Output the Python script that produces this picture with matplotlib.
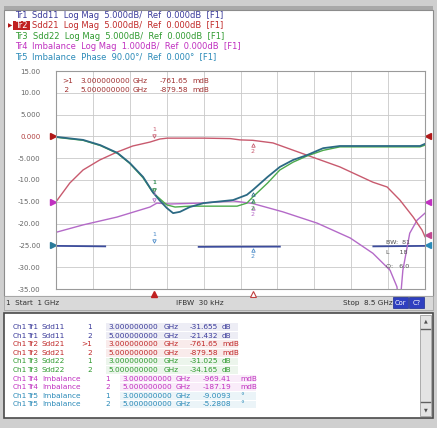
import numpy as np
import matplotlib
matplotlib.use('Agg')
import matplotlib.pyplot as plt
from matplotlib.patches import Rectangle
from matplotlib.transforms import blended_transform_factory

W, H = 437, 428

# ---------------- data ----------------
start_ghz, stop_ghz = 1.0, 8.5
y_min, y_max = -35.0, 15.0
y_ticks = [15, 10, 5, 0, -5, -10, -15, -20, -25, -30, -35]
y_tick_labels = ['15.00', '10.00', '5.000', '0.000', '-5.000', '-10.00',
                 '-15.00', '-20.00', '-25.00', '-30.00', '-35.00']
marker_freqs = [3.0, 5.0]

# Tr1 Sdd11 (dark teal)
freq_tr1 = [1.0, 1.55, 1.9, 2.25, 2.5, 2.77, 2.97, 3.1, 3.25, 3.38, 3.52, 3.72,
            4.0, 4.6, 4.88, 5.0, 5.3, 5.55, 5.82, 6.1, 6.43, 6.77, 7.12, 8.4, 8.5]
tr1_db = [-0.1, -0.8, -2.0, -3.8, -6.1, -9.3, -12.8, -14.6, -16.4, -17.6, -17.3, -16.2,
          -15.3, -14.6, -13.4, -12.3, -9.3, -7.0, -5.4, -4.3, -2.7, -2.2, -2.2, -2.2, -1.7]

# Tr2 Sdd21 (red)
freq_tr2 = [1.0, 1.28, 1.55, 1.89, 2.24, 2.56, 2.91, 3.11, 3.26, 3.6, 4.0, 4.54, 4.74,
            5.0, 5.41, 6.1, 6.77, 7.44, 7.73, 7.99, 8.26, 8.44, 8.5]
tr2_db = [-15.0, -10.7, -7.7, -5.4, -3.6, -2.2, -1.3, -0.6, -0.4, -0.4, -0.4, -0.5, -0.8,
          -0.9, -1.5, -4.3, -7.0, -10.5, -11.6, -14.6, -18.5, -21.5, -23.0]

# Tr3 Sdd22 (green)
freq_tr3 = [1.0, 1.55, 1.9, 2.25, 2.5, 2.77, 2.97, 3.1, 3.25, 3.42, 3.72, 4.13, 4.68,
            4.88, 5.0, 5.3, 5.55, 5.82, 6.1, 6.43, 6.77, 8.4, 8.5]
tr3_db = [-0.2, -0.9, -2.1, -3.9, -6.2, -9.5, -12.9, -14.2, -15.7, -16.2, -16.0, -16.0, -16.0,
          -15.3, -13.9, -10.7, -7.7, -5.9, -4.5, -3.2, -2.4, -2.4, -2.0]

# Tr4 Imbalance log mag (magenta), screen units
freq_tr4 = [1.0, 1.55, 2.24, 2.91, 3.05, 3.32, 3.93, 4.6, 5.0, 5.61, 6.31, 6.98, 7.44,
            7.79, 7.93, 7.98, 8.05, 8.19, 8.34, 8.5]
tr4_db = [-22.0, -20.3, -18.5, -16.2, -15.3, -15.5, -15.3, -14.8, -15.4, -17.3, -19.9, -23.3,
          -26.8, -30.7, -34.5, -40.0, -30.7, -22.2, -19.2, -17.6]

# Tr5 Imbalance phase (degrees), 90 deg/div, reference line at -25 on screen
freq_tr5 = [1.0, 1.5, 2.0, 2.05, 3.85, 3.9, 4.5, 5.0, 5.55, 5.6, 7.4, 7.45, 8.0, 8.5]
tr5_deg = [-2.0, -3.0, -4.0, np.nan, np.nan, -6.0, -5.5, -5.3, -5.0, np.nan, np.nan,
           -4.0, -3.0, -2.0]
tr5_ref_pos = -25.0
tr5_scale = 90.0

header_names = ['Tr1', 'Tr2', 'Tr3', 'Tr4', 'Tr5']
header_rest = [
    'Sdd11  Log Mag  5.000dB/  Ref  0.000dB  [F1]',
    'Sdd21  Log Mag  5.000dB/  Ref  0.000dB  [F1]',
    'Sdd22  Log Mag  5.000dB/  Ref  0.000dB  [F1]',
    'Imbalance  Log Mag  1.000dB/  Ref  0.000dB  [F1]',
    'Imbalance  Phase  90.00\u00b0/  Ref  0.000\u00b0  [F1]',
]
header_colors = ['#3a3a9a', '#c02828', '#2f9a2f', '#c030c0', '#2a8ab8']

marker_lines = [('>1', '3.000000000', 'GHz', '-761.65', 'mdB'),
                (' 2', '5.000000000', 'GHz', '-879.58', 'mdB')]

tbl_tr = ['Tr1', 'Tr1', 'Tr2', 'Tr2', 'Tr3', 'Tr3', 'Tr4', 'Tr4', 'Tr5', 'Tr5']
tbl_param = ['Sdd11', 'Sdd11', 'Sdd21', 'Sdd21', 'Sdd22', 'Sdd22',
             'Imbalance', 'Imbalance', 'Imbalance', 'Imbalance']
tbl_mk = ['1', '2', '>1', '2', '1', '2', '1', '2', '1', '2']
tbl_freq = ['3.000000000', '5.000000000'] * 5
tbl_val = ['-31.655', '-21.432', '-761.65', '-879.58', '-31.025', '-34.165',
           '-969.41', '-187.19', '-9.0093', '-5.2808']
tbl_unit = ['dB', 'dB', 'mdB', 'mdB', 'dB', 'dB', 'mdB', 'mdB', '\u00b0', '\u00b0']
tbl_colors = ['#3a3a9a', '#3a3a9a', '#c02828', '#c02828', '#2f9a2f', '#2f9a2f',
              '#c030c0', '#c030c0', '#2a8ab8', '#2a8ab8']

c_tr1, c_tr2, c_tr3, c_tr4, c_tr5 = '#2c6a84', '#c85a6e', '#4caa4c', '#b46ac8', '#3c4c9c'

# ---------------- figure ----------------
FONT = 'DejaVu Sans'
fig = plt.figure(figsize=(W / 100, H / 100), dpi=100, facecolor='#cfcfcf')
bg = fig.add_axes([0, 0, 1, 1], zorder=0)
bg.set_xlim(0, W); bg.set_ylim(H, 0); bg.axis('off')
ax = fig.add_axes([56 / W, 1 - 289 / H, 369 / W, 218 / H], zorder=1)
fg = fig.add_axes([0, 0, 1, 1], zorder=2)
fg.set_xlim(0, W); fg.set_ylim(H, 0); fg.axis('off'); fg.patch.set_alpha(0)

# window backgrounds
bg.add_patch(Rectangle((4, 6), 429, 4, fc='#a9a9a9', ec='none'))
bg.add_patch(Rectangle((4, 10), 429, 286, fc='white', ec='#8c8c8c', lw=0.8))
bg.add_patch(Rectangle((4, 296), 429, 14, fc='#d9d9d9', ec='#a5a5a5', lw=0.6))
bg.add_patch(Rectangle((4, 313), 429, 105, fc='white', ec='#4a4a4a', lw=1.2))
bg.add_patch(Rectangle((420, 315), 11, 101, fc='#e4e4e4', ec='#a0a0a0', lw=0.6))
bg.plot([421, 430], [329, 329], color='#606060', lw=1.0)
bg.plot([421, 430], [402, 402], color='#606060', lw=1.0)
fg.text(425.5, 321, '\u25b2', fontsize=3.5, color='#505050', ha='center', va='center')
fg.text(425.5, 410, '\u25bc', fontsize=3.5, color='#505050', ha='center', va='center')

# ---------------- header ----------------
renderer = fig.canvas.get_renderer()
hdr_y = [15, 25.5, 36, 46.5, 57]
for i, (nm, rest, c, yy) in enumerate(zip(header_names, header_rest, header_colors, hdr_y)):
    name_col = 'white' if i == 1 else c
    t = fg.text(15, yy, nm, fontsize=6.0, color=name_col, family=FONT, va='center',
                ha='left', zorder=5)
    bb = t.get_window_extent(renderer)
    x_end = fg.transData.inverted().transform((bb.x1, bb.y0))[0]
    if i == 1:
        fg.add_patch(Rectangle((12.5, 21), x_end - 12.5 + 2, 9, fc='#c02020', ec='none', zorder=4))
    fg.text(x_end + 5, yy, rest, fontsize=6.0, color=c, family=FONT, va='center',
            ha='left', zorder=3)
fg.text(8, hdr_y[1], '\u25b6', fontsize=4.0, color='#b01010', va='center', ha='left', zorder=5)

# ---------------- plot ----------------
ax.set_xlim(start_ghz, stop_ghz)
ax.set_ylim(y_min, y_max)
ax.set_xticks(np.linspace(start_ghz, stop_ghz, 11))
ax.set_xticklabels([])
ax.set_yticks(y_ticks)
ax.set_yticklabels(y_tick_labels)
ax.tick_params(length=0, pad=11, labelsize=5.0, labelcolor='#666666')
for lab in ax.get_yticklabels():
    if lab.get_text() == '0.000':
        lab.set_color('#b04040')
ax.grid(True, color='#c9c9c9', lw=0.6)
for sp in ax.spines.values():
    sp.set_color('#9a9a9a'); sp.set_linewidth(0.8)

tr5_screen = tr5_ref_pos + np.array(tr5_deg) / tr5_scale * 5.0
ax.plot(freq_tr5, tr5_screen, color=c_tr5, lw=1.3)
ax.plot(freq_tr4, tr4_db, color=c_tr4, lw=1.0)
ax.plot(freq_tr2, tr2_db, color=c_tr2, lw=1.0)
ax.plot(freq_tr3, tr3_db, color=c_tr3, lw=1.0)
ax.plot(freq_tr1, tr1_db, color=c_tr1, lw=1.3)

# markers on traces
traces = [(freq_tr1, tr1_db, c_tr1), (freq_tr2, tr2_db, c_tr2), (freq_tr3, tr3_db, c_tr3),
          (freq_tr4, tr4_db, c_tr4)]
for fr, vals, c in traces:
    for i, mf in enumerate(marker_freqs):
        yv = np.interp(mf, fr, vals)
        if i == 0:
            ax.plot(mf, yv + 1.0, marker='v', ms=2.5, color=c, mfc='none', mew=0.6)
            ax.text(mf, yv + 2.6, '1', fontsize=4.5, color=c, ha='center', va='center')
        else:
            ax.plot(mf, yv - 1.0, marker='^', ms=2.5, color=c, mfc='none', mew=0.6)
            ax.text(mf, yv - 2.6, '2', fontsize=4.5, color=c, ha='center', va='center')
ax.plot(marker_freqs[0], tr5_ref_pos + 1.0, marker='v', ms=2.5, color='#4a8ac8', mfc='none', mew=0.6)
ax.text(marker_freqs[0], tr5_ref_pos + 2.6, '1', fontsize=4.5, color='#4a8ac8', ha='center', va='center')
ax.plot(marker_freqs[1], tr5_ref_pos - 1.0, marker='^', ms=2.5, color='#4a8ac8', mfc='none', mew=0.6)
ax.text(marker_freqs[1], tr5_ref_pos - 2.6, '2', fontsize=4.5, color='#4a8ac8', ha='center', va='center')

# reference position triangles
tl = blended_transform_factory(ax.transAxes, ax.transData)
for yv, c in [(0, '#b01818'), (-15, '#c030c0'), (-25, '#2a7a9a')]:
    ax.plot(-0.008, yv, marker='>', ms=4.5, color=c, transform=tl, clip_on=False)
for yv, c in [(0, '#b01818'), (-15, '#c030c0'), (-22.5, '#c04890'), (-25, '#2a8ab8')]:
    ax.plot(1.008, yv, marker='<', ms=4.5, color=c, transform=tl, clip_on=False)

# stimulus marker triangles under the grid
tb = blended_transform_factory(ax.transData, ax.transAxes)
ax.plot(marker_freqs[0], -0.022, marker='^', ms=5, color='#c02020', transform=tb, clip_on=False)
ax.plot(marker_freqs[1], -0.022, marker='^', ms=5, mfc='white', mec='#c04040', mew=0.8,
        transform=tb, clip_on=False)

# marker readout inside plot
mk_y = [81, 90]
for (a, f, g, v, u), yy in zip(marker_lines, mk_y):
    kw = dict(fontsize=5.3, color='#a03030', family=FONT, va='center')
    fg.text(62, yy, a, **kw)
    fg.text(80, yy, f, **kw)
    fg.text(133, yy, g, **kw)
    fg.text(188, yy, v, ha='right', **kw)
    fg.text(192, yy, u, **kw)

# bandwidth search text
for s, yy in zip(['BW:  81', 'L     18', 'Q:   6.0'], [242, 252, 266]):
    fg.text(386, yy, s, fontsize=4.6, color='#505050', va='center')

# ---------------- status bar ----------------
sb_y = 303
fg.text(6, sb_y, '1  Start  1 GHz', fontsize=5.2, color='#303030', va='center')
fg.text(200, sb_y, 'IFBW  30 kHz', fontsize=5.2, color='#303030', va='center', ha='center')
fg.text(343, sb_y, 'Stop  8.5 GHz', fontsize=5.2, color='#303030', va='center')
for x0, s in [(393, 'Cor'), (409, 'C?')]:
    fg.add_patch(Rectangle((x0, 297), 15, 11, fc='#2f3fc0', ec='#1a2a90', lw=0.5))
    fg.text(x0 + 7.5, sb_y, s, fontsize=4.8, color='white', ha='center', va='center')

# ---------------- marker table ----------------
row_y = [327 + 8.6 * i for i in range(10)]
for i, yy in enumerate(row_y):
    c = tbl_colors[i]
    imb = tbl_param[i] == 'Imbalance'
    kw = dict(fontsize=5.3, color=c, family=FONT, va='center')
    x_mk = 110 if imb else 92
    x_fr = 122 if imb else 108
    x_gh = 176 if imb else 164
    x_vr = 231 if imb else 218
    x_un = 240 if imb else 222
    fg.add_patch(Rectangle((x_fr - 2, yy - 3.8), (x_un + 16) - (x_fr - 2), 7.6,
                           fc=c, alpha=0.09, ec='none'))
    fg.text(13, yy, 'Ch1', **kw)
    fg.text(27, yy, tbl_tr[i], **kw)
    fg.text(42, yy, tbl_param[i], **kw)
    fg.text(x_mk, yy, tbl_mk[i], ha='right', **kw)
    fg.text(x_fr, yy, tbl_freq[i], **kw)
    fg.text(x_gh, yy, 'GHz', **kw)
    fg.text(x_vr, yy, tbl_val[i], ha='right', **kw)
    fg.text(x_un, yy, tbl_unit[i], **kw)

fig.savefig('out.png', dpi=100, facecolor=fig.get_facecolor())
